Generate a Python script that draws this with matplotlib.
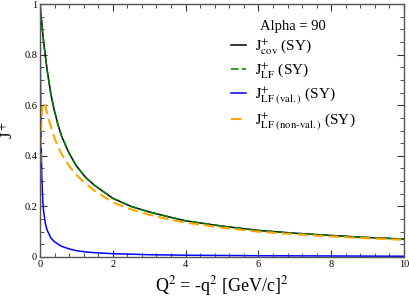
import matplotlib
matplotlib.use("Agg")
import matplotlib.pyplot as plt
from matplotlib.ticker import MultipleLocator

plt.rcParams['font.family'] = ['Liberation Serif', 'DejaVu Serif']
plt.rcParams['mathtext.fontset'] = 'stix'

# Q^2 grid
q2 = [0, 0.01, 0.025, 0.05, 0.075, 0.1, 0.15, 0.2, 0.3, 0.4, 0.5, 0.6, 0.8,
      1.0, 1.25, 1.5, 2, 2.5, 3, 3.5, 4, 5, 6, 7, 8, 9, 10]

j_cov = [1.0, 0.985, 0.96, 0.925, 0.885, 0.85, 0.79, 0.735, 0.643, 0.575, 0.52,
         0.475, 0.41, 0.36, 0.315, 0.283, 0.232, 0.2, 0.178, 0.16, 0.143,
         0.122, 0.105, 0.094, 0.085, 0.077, 0.071]
j_lf = [1.0, 0.985, 0.96, 0.925, 0.885, 0.85, 0.79, 0.735, 0.643, 0.575, 0.52,
        0.475, 0.41, 0.36, 0.315, 0.283, 0.232, 0.2, 0.178, 0.16, 0.143,
        0.122, 0.105, 0.094, 0.085, 0.077, 0.071]
j_val = [1.0, 0.75, 0.5, 0.32, 0.225, 0.18, 0.13, 0.105, 0.075, 0.06, 0.05,
         0.042, 0.032, 0.025, 0.02, 0.017, 0.013, 0.011, 0.009, 0.008, 0.007,
         0.006, 0.005, 0.0045, 0.004, 0.0035, 0.003]
j_nonval = [0.0, 0.3, 0.48, 0.57, 0.603, 0.61, 0.595, 0.565, 0.515, 0.47, 0.435,
            0.405, 0.36, 0.325, 0.29, 0.262, 0.216, 0.188, 0.167, 0.15, 0.136,
            0.116, 0.1, 0.09, 0.081, 0.074, 0.068]

fig = plt.figure(figsize=(4.09, 2.99), dpi=100)
ax = fig.add_axes([0.0978, 0.1405, 0.89, 0.846])

ax.plot(q2, j_cov, color='black', lw=1.1, label=r'$\mathrm{J}^{+}_{\rm cov}$ (SY)')
ax.plot(q2, j_lf, color='#008000', lw=1.1, dashes=(5, 2), label=r'$\mathrm{J}^{+}_{\rm LF}$ (SY)')
ax.plot(q2, j_val, color='#0000ff', lw=1.1, label=r'$\mathrm{J}^{+}_{\rm LF\ (val.)}$ (SY)')
ax.plot(q2, j_nonval, color='#ffa500', lw=1.5, dashes=(5, 2.5),
        label=r'$\mathrm{J}^{+}_{\rm LF\ (non\text{-}val.)}$ (SY)')

ax.set_xlim(0, 10)
ax.set_ylim(0, 1)
ax.xaxis.set_major_locator(MultipleLocator(2))
ax.xaxis.set_minor_locator(MultipleLocator(0.4))
ax.yaxis.set_minor_locator(MultipleLocator(0.05))
ax.set_yticks([0, 0.2, 0.4, 0.6, 0.8, 1.0])
ax.set_yticklabels(['0', '0.2', '0.4', '0.6', '0.8', '1'])
ax.tick_params(which='both', direction='in', top=True, right=True, labelsize=7.5, pad=2,
               color='#333333')
ax.tick_params(which='major', length=5)
ax.tick_params(which='minor', length=3)
for s in ax.spines.values():
    s.set_color('#555555')
    s.set_linewidth(1.0)

ax.set_xlabel(r'Q$^2$ = -q$^2$ [GeV/c]$^2$', fontsize=13, labelpad=4)
ax.set_ylabel(r'J$^+$', fontsize=12)
ax.yaxis.set_label_coords(-0.062, 0.5)

leg = ax.legend(title='Alpha = 90', loc='upper right', bbox_to_anchor=(0.905, 0.99),
                frameon=False, fontsize=11, title_fontsize=10.5, handlelength=1.0,
                handletextpad=0.6, labelspacing=0.28)

fig.savefig('out.png', dpi=100)
